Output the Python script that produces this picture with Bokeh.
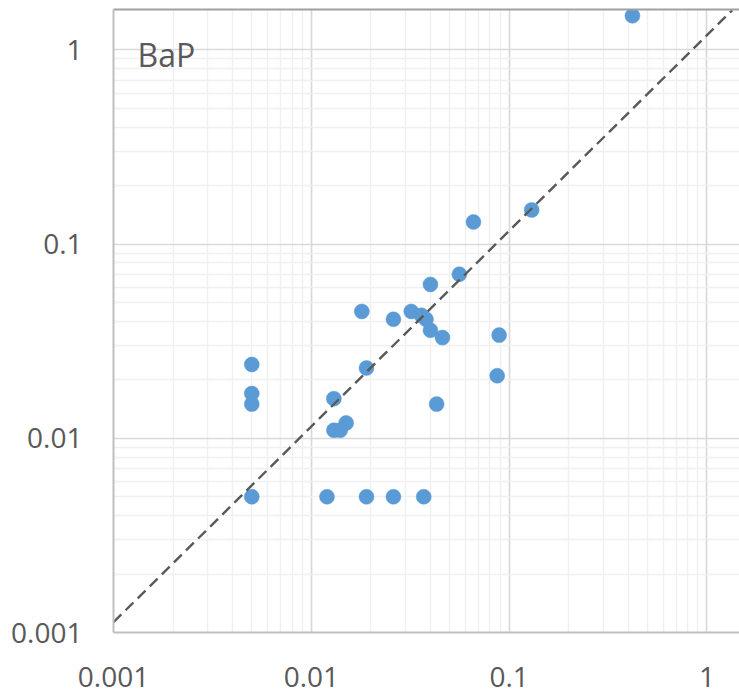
from bokeh.plotting import figure
from bokeh.models import FixedTicker, CustomJSTickFormatter, Label, LogAxis, ColumnDataSource
from bokeh.embed import file_html
from bokeh.resources import INLINE

# Data (BaP, log-log scatter)
x_vals = [0.42, 0.13, 0.066, 0.056, 0.040, 0.018, 0.032, 0.026, 0.036, 0.038,
          0.040, 0.046, 0.089, 0.019, 0.087, 0.005, 0.005, 0.005, 0.013, 0.015,
          0.013, 0.014, 0.043, 0.005, 0.012, 0.019, 0.026, 0.037]
y_vals = [1.5, 0.15, 0.13, 0.070, 0.062, 0.045, 0.045, 0.041, 0.043, 0.041,
          0.036, 0.033, 0.034, 0.023, 0.021, 0.024, 0.017, 0.015, 0.016, 0.012,
          0.011, 0.011, 0.015, 0.005, 0.005, 0.005, 0.005, 0.005]

# 1:1 reference line (dashed)
ref_x = [0.001, 1.34]
ref_y = [0.00113, 1.6]

major_ticks = [0.001, 0.01, 0.1, 1]
minor_ticks = [m * 10.0 ** e for e in range(-3, 1) for m in range(2, 10)]

label_text = "BaP"

FONT = "Open Sans"
TXT = "#595959"

p = figure(width=739, height=695,
           x_axis_type="log", y_axis_type="log",
           x_range=(0.001, 1.46), y_range=(0.001, 1.615),
           output_backend="svg", toolbar_location=None,
           min_border_left=113, min_border_right=0,
           min_border_top=9, min_border_bottom=63)
p.outline_line_color = None
p.background_fill_color = "white"
p.border_fill_color = "white"

fmt = CustomJSTickFormatter(code="return tick.toString();")
for ax in (p.xaxis[0], p.yaxis[0]):
    ax.ticker = FixedTicker(ticks=major_ticks, minor_ticks=minor_ticks)
    ax.formatter = fmt
    ax.axis_line_color = "#bfbfbf"
    ax.axis_line_width = 2
    ax.major_tick_line_color = None
    ax.minor_tick_line_color = None
    ax.major_tick_out = 0
    ax.major_tick_in = 0
    ax.minor_tick_out = 0
    ax.minor_tick_in = 0
    ax.major_label_text_font = FONT
    ax.major_label_text_font_size = "28px"
    ax.major_label_text_color = TXT
p.yaxis.major_label_standoff = 31
p.xaxis.major_label_standoff = 34

for g in (p.xgrid[0], p.ygrid[0]):
    g.ticker = FixedTicker(ticks=major_ticks, minor_ticks=minor_ticks)
    g.grid_line_color = "#d9d9d9"
    g.grid_line_width = 1.7
    g.minor_grid_line_color = "#f0f0f0"
    g.minor_grid_line_width = 1.5

top_axis = LogAxis(ticker=FixedTicker(ticks=[]), major_label_text_font_size="0px",
                   axis_line_color="#a0a0a0", axis_line_width=2,
                   major_tick_line_color=None, minor_tick_line_color=None,
                   major_tick_out=0, minor_tick_out=0, major_label_standoff=0)
p.add_layout(top_axis, "above")

src = ColumnDataSource(data=dict(x=x_vals, y=y_vals))
p.scatter("x", "y", source=src, size=15, fill_color="#5b9bd5", line_color="#5b9bd5",
          line_width=0.5)

p.line(ref_x, ref_y, line_color="#595959", line_width=2.4, line_dash="11 6")

lbl = Label(x=24, y=578, x_units="screen", y_units="screen", text=label_text,
            text_font=FONT, text_font_size="32px", text_color=TXT,
            text_baseline="alphabetic", text_align="left")
p.add_layout(lbl)

open("out.html", "w").write(file_html(p, INLINE))
